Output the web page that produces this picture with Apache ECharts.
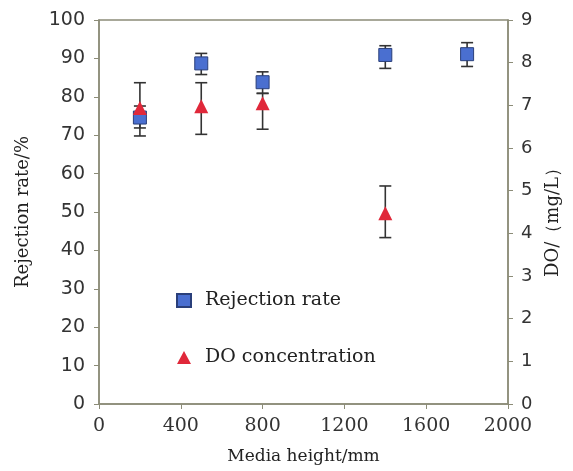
<!DOCTYPE html>
<html>
<head>
<meta charset="utf-8">
<script src="https://cdn.jsdelivr.net/npm/echarts@6/dist/echarts.min.js"></script>
<style>
  html, body { margin: 0; padding: 0; background: #fff; }
  #chart { width: 573px; height: 471px; }
</style>
</head>
<body>
<div id="chart"></div>
<script>
// media heights (mm)
const rejX = [200, 500, 800, 1400, 1800];
const rejVal = [74.6, 88.7, 83.8, 90.9, 91.1];
const rejLow = [69.8, 85.8, 80.9, 87.4, 87.9];
const rejHigh = [77.6, 91.3, 86.5, 93.3, 94.1];

const doX = [200, 500, 800, 1400];
const doVal = [6.94, 6.98, 7.05, 4.47];
const doLow = [6.47, 6.32, 6.44, 3.90];
const doHigh = [7.53, 7.53, 7.28, 5.11];

const axisColor = '#8c8c78';
const sans = 'DejaVu Sans';
const serif = 'DejaVu Serif';

const chart = echarts.init(document.getElementById('chart'));

const errorBar = (xs, lo, hi) => xs.map((x, i) => [x, lo[i], hi[i]]);

const renderErr = (params, api) => {
  const x = api.value(0);
  const lo = api.coord([x, api.value(1)]);
  const hi = api.coord([x, api.value(2)]);
  const w = 6;
  const style = { stroke: '#333', lineWidth: 1.6 };
  return {
    type: 'group',
    children: [
      { type: 'line', shape: { x1: lo[0], y1: lo[1], x2: hi[0], y2: hi[1] }, style },
      { type: 'line', shape: { x1: lo[0] - w, y1: lo[1], x2: lo[0] + w, y2: lo[1] }, style },
      { type: 'line', shape: { x1: hi[0] - w, y1: hi[1], x2: hi[0] + w, y2: hi[1] }, style }
    ]
  };
};

chart.setOption({
  animation: false,
  grid: { left: 99, right: 65, top: 20, bottom: 67, show: true, borderColor: axisColor, borderWidth: 1.5 },
  legend: {
    orient: 'vertical',
    left: 171,
    top: 286,
    itemGap: 38,
    itemWidth: 14,
    itemHeight: 13,
    textStyle: { fontFamily: serif, fontSize: 19, color: '#222', padding: [0, 0, 0, 9] },
    data: ['Rejection rate', 'DO concentration']
  },
  xAxis: {
    type: 'value',
    min: 0, max: 2000, interval: 400,
    name: 'Media height/mm',
    nameLocation: 'middle',
    nameGap: 44,
    nameTextStyle: { fontFamily: serif, fontSize: 17, color: '#222' },
    axisLine: { lineStyle: { color: axisColor, width: 1.5 } },
    axisTick: { show: true, length: 5, lineStyle: { color: axisColor } },
    axisLabel: { fontFamily: serif, fontSize: 19, color: '#333', margin: 13, formatter: v => String(v) },
    splitLine: { show: false }
  },
  yAxis: [
    {
      type: 'value',
      min: 0, max: 100, interval: 10,
      name: 'Rejection rate/%',
      nameLocation: 'middle',
      nameGap: 67,
      nameTextStyle: { fontFamily: serif, fontSize: 18, color: '#222' },
      axisLine: { show: true, lineStyle: { color: axisColor, width: 1.5 } },
      axisTick: { show: true, length: 5, lineStyle: { color: axisColor } },
      axisLabel: { fontFamily: sans, fontSize: 19, color: '#333', margin: 14 },
      splitLine: { show: false }
    },
    {
      type: 'value',
      min: 0, max: 9, interval: 1,
      name: 'DO/（mg/L）',
      nameLocation: 'middle',
      nameGap: 36,
      nameRotate: 90,
      nameTextStyle: { fontFamily: serif, fontSize: 18, color: '#222', padding: [0, 12, 0, 0] },
      axisLine: { show: true, lineStyle: { color: axisColor, width: 1.5 } },
      axisTick: { show: true, length: 5, lineStyle: { color: axisColor } },
      axisLabel: { fontFamily: sans, fontSize: 18, color: '#333', margin: 13 },
      splitLine: { show: false }
    }
  ],
  series: [
    {
      type: 'custom',
      yAxisIndex: 0,
      renderItem: renderErr,
      data: errorBar(rejX, rejLow, rejHigh),
      z: 1,
      silent: true
    },
    {
      type: 'custom',
      yAxisIndex: 1,
      renderItem: renderErr,
      data: errorBar(doX, doLow, doHigh),
      z: 1,
      silent: true
    },
    {
      name: 'Rejection rate',
      type: 'scatter',
      yAxisIndex: 0,
      symbol: 'rect',
      symbolSize: 13,
      itemStyle: { color: '#4a6fd0', borderColor: '#2a3f7a', borderWidth: 1, opacity: 1 },
      data: rejX.map((x, i) => [x, rejVal[i]]),
      z: 3
    },
    {
      name: 'DO concentration',
      type: 'scatter',
      yAxisIndex: 1,
      symbol: 'triangle',
      symbolSize: 14,
      itemStyle: { color: '#e0283a', opacity: 1 },
      data: doX.map((x, i) => [x, doVal[i]]),
      z: 4
    }
  ]
});
</script>
</body>
</html>
